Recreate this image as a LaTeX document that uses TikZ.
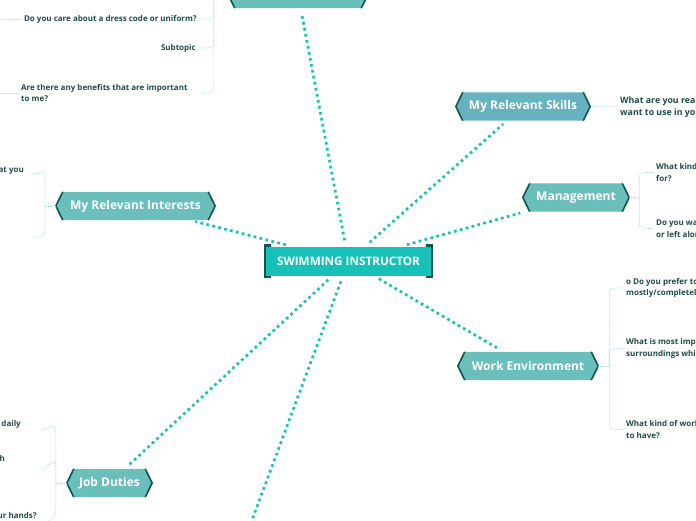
\documentclass[tikz,border=0pt]{standalone}
\usepackage{fontspec}
\setmainfont{Open Sans}
\usetikzlibrary{backgrounds,calc}
\definecolor{cteal}{RGB}{23,193,185}
\definecolor{cdark}{RGB}{16,86,82}
\definecolor{ctopic}{RGB}{106,191,187}
\definecolor{cskill}{RGB}{102,178,190}
\definecolor{ctext}{RGB}{30,76,73}
\definecolor{cline}{RGB}{160,226,222}
\definecolor{cpale}{RGB}{196,238,235}
\tikzset{
  root/.style={
    rectangle, fill=cteal, minimum width=169pt, minimum height=29pt,
    font=\fontsize{11.7}{13}\selectfont\bfseries, text=white, inner sep=0pt
  },
  topic/.style={
    rectangle, minimum height=28pt, inner sep=0pt,
    font=\fontsize{12}{14}\selectfont\bfseries, text=white
  },
  hexedge/.style={draw=cdark, line width=1.6pt},
  link/.style={
    draw=cteal, line width=2.7pt, dash pattern=on 2.7pt off 3.4pt,
    shorten <=6pt, shorten >=5pt
  },
  sub/.style={draw=cline, line width=0.6pt, dash pattern=on 1pt off 0.7pt},
  subsolid/.style={draw=cpale, line width=0.8pt},
  leaf/.style={
    font=\fontsize{8}{11.5}\selectfont\bfseries, text=ctext,
    inner xsep=3pt, inner ysep=0pt
  },
  leafR/.style={leaf, anchor=west, align=left},
  leafL/.style={leaf, anchor=east, align=right}
}

\begin{document}
\begin{tikzpicture}[x=1pt, y=-1pt]
  \useasboundingbox (0,0) rectangle (696,520);
  \clip (0,0) rectangle (696,520);

  %% ---- centre -------------------------------------------------------
  \node[root] (root) at (348.5,261) {SWIMMING INSTRUCTOR};
  \draw[cdark, line width=2.4pt]
    ([xshift=7pt,yshift=1pt]root.north west) -- ([xshift=1.2pt,yshift=1pt]root.north west)
    -- ([xshift=1.2pt,yshift=-1pt]root.south west) -- ([xshift=7pt,yshift=-1pt]root.south west);
  \draw[cdark, line width=2.4pt]
    ([xshift=-7pt,yshift=1pt]root.north east) -- ([xshift=-1.2pt,yshift=1pt]root.north east)
    -- ([xshift=-1.2pt,yshift=-1pt]root.south east) -- ([xshift=-7pt,yshift=-1pt]root.south east);

  %% ---- main topics --------------------------------------------------
  \node[topic, minimum width=140pt] (top)       at (298,-6)    {Working Conditions};
  \node[topic, minimum width=134pt] (skills)    at (523,106.5) {My Relevant Skills};
  \node[topic, minimum width=106pt] (mgmt)      at (576,197.5) {Management};
  \node[topic, minimum width=140pt] (work)      at (528,366)   {Work Environment};
  \node[topic, minimum width=159pt] (interests) at (135.5,206) {My Relevant Interests};
  \node[topic, minimum width=85pt]  (duties)    at (109.5,483) {Job Duties};
  \coordinate (bottom) at (226,590);

  \begin{scope}[on background layer]
    \foreach \n/\c in {top/ctopic, skills/cskill, mgmt/ctopic, work/ctopic,
                       interests/ctopic, duties/ctopic}{
      \fill[\c] (\n.west) -- ([xshift=7pt]\n.north west) -- ([xshift=-7pt]\n.north east)
        -- (\n.east) -- ([xshift=-7pt]\n.south east) -- ([xshift=7pt]\n.south west) -- cycle;
      \draw[hexedge] ([xshift=7pt]\n.north west) -- (\n.west) -- ([xshift=7pt]\n.south west);
      \draw[hexedge] ([xshift=-7pt]\n.north east) -- (\n.east) -- ([xshift=-7pt]\n.south east);
    }
  \end{scope}

  \foreach \n in {top,skills,mgmt,work,interests,duties}
    \draw[link] (root) -- (\n);
  \draw[link] (root) -- (bottom);

  %% ---- subtopics: right side ----------------------------------------
  \node[leafR, font=\fontsize{8.8}{12}\selectfont\bfseries] (skq) at (617,107)
    {What are you really good at and\\want to use in your job?};
  \draw[sub] ([xshift=2pt]skills.east) -- (skq.west);

  \node[leafR] (mq1) at (653,172.5) {What kind of manager do you want to work\\for?};
  \node[leafR] (mq2) at (653,228.5) {Do you want to be closely supervised\\or left alone?};
  \coordinate (mj) at ([xshift=10pt]mgmt.east);
  \draw[sub] (mgmt.east) -- (mj);
  \foreach \t in {mq1,mq2}
    \draw[sub] (mj) -- ($(mj |- \t.west)!8pt!(mj)$) .. controls (mj |- \t.west) .. (\t.west);

  \node[leafR] (wq1) at (623,288) {o Do you prefer to work inside or outside,\\mostly/completely?};
  \node[leafR] (wq2) at (623,348.5) {What is most important to you about the\\surroundings which you work in?};
  \node[leafR] (wq3) at (623,429.5) {What kind of work schedule would you like\\to have?};
  \coordinate (wj) at ([xshift=11pt]work.east);
  \draw[sub] (work.east) -- (wj);
  \foreach \t in {wq1,wq2,wq3}
    \draw[sub] (wj) -- ($(wj |- \t.west)!8pt!(wj)$) .. controls (wj |- \t.west) .. (\t.west);

  %% ---- subtopics: left side -----------------------------------------
  \node[leafL] (iq1) at (27,170) {What do you enjoy doing that you};
  \coordinate (iq2) at (32,237);
  \coordinate (ij) at ([xshift=-11pt]interests.west);
  \draw[sub] (interests.west) -- (ij);
  \draw[sub] (ij) -- ($(ij |- iq1.east)!8pt!(ij)$) .. controls (ij |- iq1.east) .. ([xshift=5pt,yshift=-5pt]iq1.east);
  \draw[sub] (ij) -- ($(ij |- iq2)!8pt!(ij)$) .. controls (ij |- iq2) .. (iq2);

  \node[leafL] (dq1) at (24,424) {What tasks do you want to do daily};
  \node[leafL] (dq2) at (8,459) {Do you like to teach};
  \node[leafL] (dq3) at (40,516) {Do you like to work with your hands?};
  \coordinate (dj) at ([xshift=-11pt]duties.west);
  \draw[sub] (duties.west) -- (dj);
  \draw[sub] (dj) -- ($(dj |- dq1.east)!8pt!(dj)$) .. controls (dj |- dq1.east) .. ([xshift=18pt,yshift=-6pt]dq1.east);
  \draw[sub] (dj) -- ($(dj |- dq2.east)!8pt!(dj)$) .. controls (dj |- dq2.east) .. ([xshift=34pt,yshift=-12pt]dq2.east);
  \draw[sub] (dj) -- ($(dj |- dq3.east)!8pt!(dj)$) .. controls (dj |- dq3.east) .. ([xshift=6pt,yshift=-7pt]dq3.east);

  %% ---- subtopics: working conditions --------------------------------
  \node[leafL] (wc1) at (200,19) {Do you care about a dress code or uniform?};
  \node[leafL] (wc2) at (199,48) {Subtopic};
  \node[leaf, anchor=west, align=left] (wc3) at (18,93)
    {Are there any benefits that are important\\to me?};
  \coordinate (tj) at ([xshift=-14pt]top.west);
  \draw[sub] (top.west) -- (tj);
  \foreach \t in {wc1,wc2}
    \draw[sub] (tj) -- ($(tj |- \t.east)!8pt!(tj)$) .. controls (tj |- \t.east) .. (\t.east);
  \draw[sub] (tj) -- ($(tj |- wc3.east)!10pt!(tj)$) .. controls (tj |- wc3.east) .. (wc1.east |- wc3.east);
  \draw[subsolid] (wc1.west) -- ++(-30,0);
  \draw[subsolid] (wc3.west) -- ++(-30,0);
\end{tikzpicture}
\end{document}
